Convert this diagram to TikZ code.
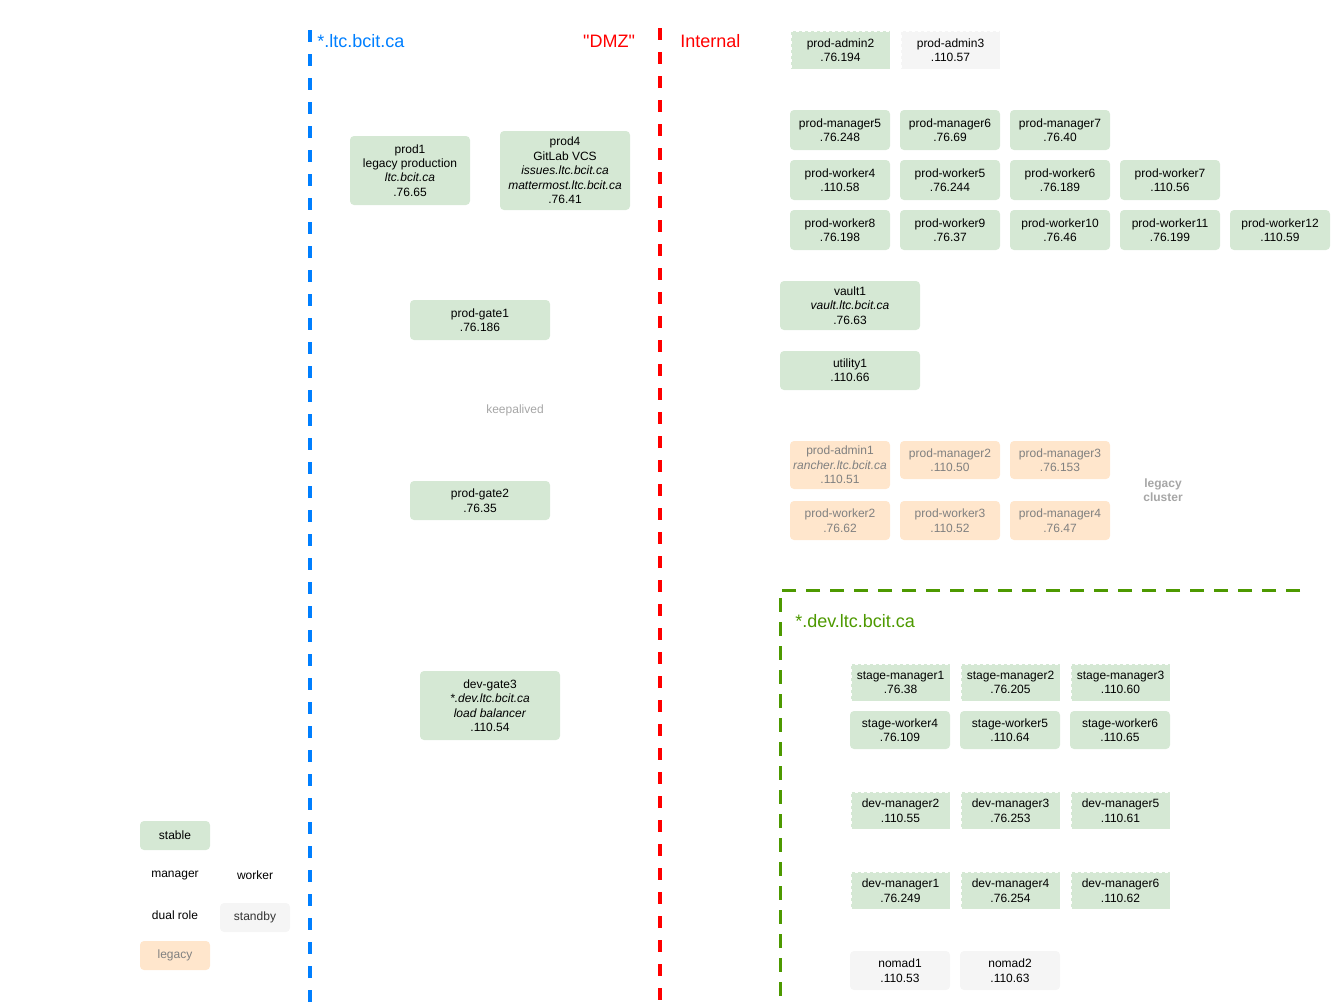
\documentclass[tikz,border=0pt]{standalone}
\usepackage{fontspec}
\setmainfont{Liberation Sans}
% same face without the TeX input mapping, so straight quotes stay straight
\newfontfamily\rawsans{Liberation Sans}
\definecolor{stableg}{HTML}{D5E8D4}
\definecolor{legacyo}{HTML}{FFE6CC}
\definecolor{standbyg}{HTML}{F5F5F5}
\definecolor{legacytext}{HTML}{808080}
\definecolor{notegrey}{HTML}{A6A6A6}
\definecolor{zoneblue}{HTML}{007FFF}
\definecolor{zonered}{HTML}{FF0000}
\definecolor{zonegreen}{HTML}{4D9900}
\newcommand{\nodefont}{\fontsize{9}{10.8}\selectfont}
\newcommand{\headfont}{\fontsize{13.5}{16}\selectfont}
% host box: style, name, x1, y1, x2, y2, text  (pixel coordinates)
\newcommand{\hostbox}[7]{%
  \node[#1, minimum width={(#5-#3)*0.75pt}, minimum height={(#6-#4)*0.75pt}]
    (#2) at ({(#3+#5)/2},{(#4+#6)/2}) {#7};}
\tikzset{
  srv/.style={fill=stableg, rounded corners=3pt, align=center, inner sep=0pt,
    outer sep=0pt, font=\nodefont, text=black},
  legacybox/.style={srv, fill=legacyo, text=legacytext},
  standbybox/.style={srv, fill=standbyg},
  dualbox/.style={srv, sharp corners, draw=white, line width=0.75pt,
    dash pattern=on 2.25pt off 2.25pt},
  standbydual/.style={dualbox, fill=standbyg},
  plain/.style={align=center, font=\nodefont, inner sep=0pt},
  zone/.style={line width=3pt, dash pattern=on 9pt off 9pt},
  heading/.style={font=\headfont, inner sep=0pt},
}
\begin{document}
\begin{tikzpicture}[x=0.75pt, y=-0.75pt]
\useasboundingbox (0,0) rectangle (1341,1004);

% zone boundaries
\coordinate (bluetop) at (310,30);
\coordinate (bluebot) at (310,1004);
\coordinate (redtop) at (660,28);
\coordinate (redbot) at (660,1004);
\coordinate (devright) at (1300,590);
\coordinate (devcorner) at (780,590);
\coordinate (devbot) at (780,1004);
\draw[zone, zoneblue] (bluetop) -- (bluebot);
\draw[zone, zonered] (redtop) -- (redbot);
\draw[zonegreen, line width=2.25pt, dash pattern=on 10.5pt off 7.5pt]
  (devright) -- (devcorner) -- (devbot);

% zone headings
\node[heading, text=zoneblue, anchor=west] (hltc) at (317,41) {*.ltc.bcit.ca};
\node[heading, text=zonered] (hdmz) at (609,41) {\rawsans "DMZ"};
\node[heading, text=zonered, anchor=west] (hint) at (680,41) {Internal};
\node[heading, text=zonegreen, anchor=west] (hdev) at (795,621) {*.dev.ltc.bcit.ca};

% public hosts
\hostbox{srv}{prod1}{350}{136}{470}{205}{prod1\\legacy production\\\textit{ltc.bcit.ca}\\.76.65}
\hostbox{srv}{prod4}{500}{131}{630}{210}{prod4\\GitLab VCS\\\textit{issues.ltc.bcit.ca}\\\textit{mattermost.ltc.bcit.ca}\\.76.41}
\hostbox{srv}{gate1}{410}{300}{550}{340}{prod-gate1\\.76.186}
\node[plain, text=notegrey] (keep) at (515,410) {keepalived};
\hostbox{srv}{gate2}{410}{481}{550}{520}{prod-gate2\\.76.35}
\hostbox{srv}{gate3}{420}{671}{560}{740}{dev-gate3\\\textit{*.dev.ltc.bcit.ca}\\\textit{load balancer}\\.110.54}

% production admin hosts
\hostbox{dualbox}{padmin2}{791}{31}{890}{69}{prod-admin2\\.76.194}
\hostbox{standbydual}{padmin3}{901}{31}{1000}{69}{prod-admin3\\.110.57}

% production cluster
\hostbox{srv}{pman5}{790}{110}{890}{150}{prod-manager5\\.76.248}
\hostbox{srv}{pman6}{900}{110}{1000}{150}{prod-manager6\\.76.69}
\hostbox{srv}{pman7}{1010}{110}{1110}{150}{prod-manager7\\.76.40}
\hostbox{srv}{pwork4}{790}{160}{890}{200}{prod-worker4\\.110.58}
\hostbox{srv}{pwork5}{900}{160}{1000}{200}{prod-worker5\\.76.244}
\hostbox{srv}{pwork6}{1010}{160}{1110}{200}{prod-worker6\\.76.189}
\hostbox{srv}{pwork7}{1120}{160}{1220}{200}{prod-worker7\\.110.56}
\hostbox{srv}{pwork8}{790}{210}{890}{250}{prod-worker8\\.76.198}
\hostbox{srv}{pwork9}{900}{210}{1000}{250}{prod-worker9\\.76.37}
\hostbox{srv}{pwork10}{1010}{210}{1110}{250}{prod-worker10\\.76.46}
\hostbox{srv}{pwork11}{1120}{210}{1220}{250}{prod-worker11\\.76.199}
\hostbox{srv}{pwork12}{1230}{210}{1330}{250}{prod-worker12\\.110.59}

\hostbox{srv}{vault1}{780}{281}{920}{330}{vault1\\\textit{vault.ltc.bcit.ca}\\.76.63}
\hostbox{srv}{utility1}{780}{351}{920}{390}{utility1\\.110.66}

% legacy cluster
\hostbox{legacybox}{padmin1}{790}{441}{890}{489}{prod-admin1\\\textit{rancher.ltc.bcit.ca}\\.110.51}
\hostbox{legacybox}{pman2}{900}{441}{1000}{479}{prod-manager2\\.110.50}
\hostbox{legacybox}{pman3}{1010}{441}{1110}{479}{prod-manager3\\.76.153}
\hostbox{legacybox}{pwork2}{790}{501}{890}{540}{prod-worker2\\.76.62}
\hostbox{legacybox}{pwork3}{900}{501}{1000}{540}{prod-worker3\\.110.52}
\hostbox{legacybox}{pman4}{1010}{501}{1110}{540}{prod-manager4\\.76.47}
\node[plain, text=notegrey, font=\nodefont\bfseries] (legclus) at (1163,490) {legacy\\cluster};

% development hosts
\hostbox{dualbox}{sman1}{851}{664}{950}{701}{stage-manager1\\.76.38}
\hostbox{dualbox}{sman2}{961}{664}{1060}{701}{stage-manager2\\.76.205}
\hostbox{dualbox}{sman3}{1071}{664}{1170}{701}{stage-manager3\\.110.60}
\hostbox{srv}{swork4}{850}{711}{950}{749}{stage-worker4\\.76.109}
\hostbox{srv}{swork5}{960}{711}{1060}{749}{stage-worker5\\.110.64}
\hostbox{srv}{swork6}{1070}{711}{1170}{749}{stage-worker6\\.110.65}

\hostbox{dualbox}{dman2}{851}{792}{950}{829}{dev-manager2\\.110.55}
\hostbox{dualbox}{dman3}{961}{792}{1060}{829}{dev-manager3\\.76.253}
\hostbox{dualbox}{dman5}{1071}{792}{1170}{829}{dev-manager5\\.110.61}
\hostbox{dualbox}{dman1}{851}{872}{950}{909}{dev-manager1\\.76.249}
\hostbox{dualbox}{dman4}{961}{872}{1060}{909}{dev-manager4\\.76.254}
\hostbox{dualbox}{dman6}{1071}{872}{1170}{909}{dev-manager6\\.110.62}

\hostbox{standbybox}{nomad1}{850}{951}{950}{990}{nomad1\\.110.53}
\hostbox{standbybox}{nomad2}{960}{951}{1060}{990}{nomad2\\.110.63}

% legend
\hostbox{srv}{lgstable}{140}{821}{210}{850}{stable}
\node[plain] (lgmanager) at (175,875) {manager};
\node[plain] (lgworker) at (255,875) {worker};
\node[plain] (lgdual) at (175,915) {dual role};
\hostbox{standbybox}{lgstandby}{220}{903}{290}{932}{\textcolor[HTML]{333333}{standby}}
\hostbox{legacybox}{lglegacy}{140}{941}{210}{970}{legacy}
\end{tikzpicture}
\end{document}
